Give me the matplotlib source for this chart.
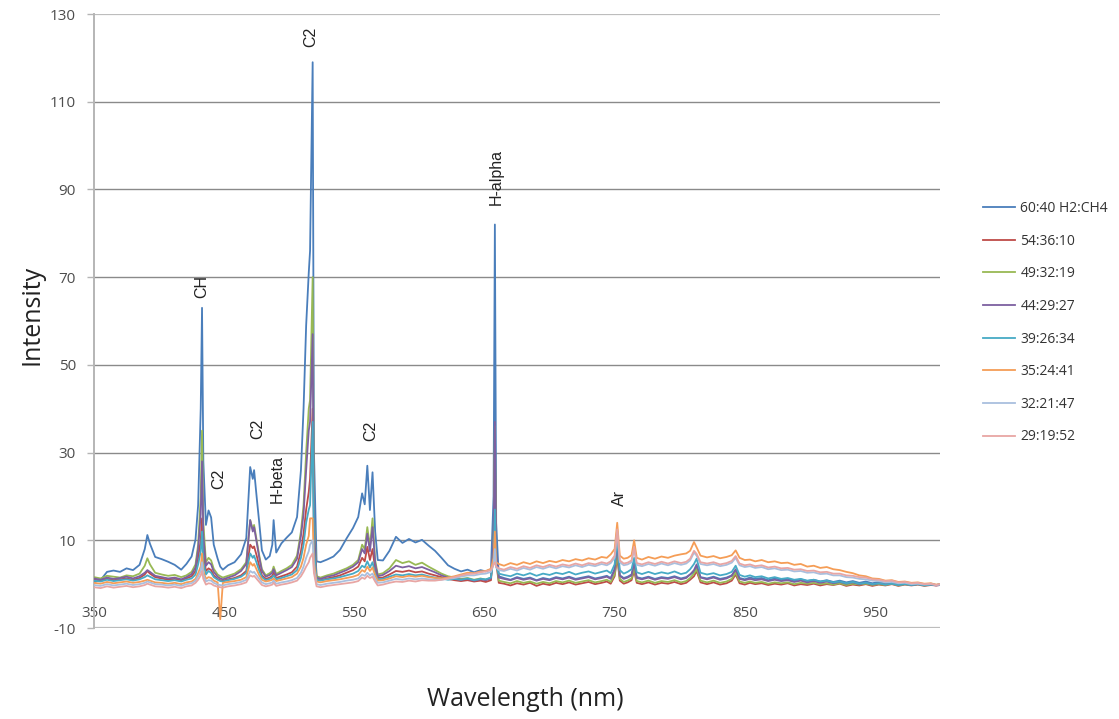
import matplotlib
matplotlib.use("Agg")
import matplotlib.pyplot as plt
import numpy as np

# ---------------- data ----------------
wavelength = [
    350, 355, 360, 365, 370, 375, 380, 385, 389, 391,
    393, 397, 402, 407, 412, 417, 421, 425, 428, 430,
    432, 433, 434, 436, 438, 440, 442, 445, 447, 449,
    453, 458, 463, 467, 470, 472, 473, 475, 477, 479,
    482, 485, 487, 488, 490, 494, 498, 502, 506, 509,
    511, 513, 515, 516, 518, 519, 521, 524, 529, 534,
    539, 544, 549, 553, 556, 558, 560, 562, 564, 566,
    568, 572, 577, 582, 587, 592, 597, 602, 607, 612,
    617, 622, 627, 632, 637, 642, 647, 651, 655, 657,
    658, 659, 661, 665, 670, 675, 680, 685, 690, 695,
    700, 705, 710, 715, 720, 725, 730, 735, 740, 744,
    747, 750, 752, 754, 757, 760, 763, 765, 767, 771,
    776, 781, 786, 791, 796, 801, 805, 808, 811, 813,
    816, 821, 826, 831, 836, 840, 843, 846, 850, 854,
    858, 863, 868, 873, 878, 883, 888, 893, 898, 903,
    908, 913, 918, 923, 928, 933, 938, 943, 948, 953,
    958, 963, 968, 973, 978, 983, 988, 993, 997, 1000,
]

s_60_40 = [
    0.5, 0.9, 2.8, 3.1, 2.8, 3.6, 3.2, 4.4, 8.0, 11.2,
    9.2, 6.2, 5.7, 5.1, 4.4, 3.3, 4.6, 6.3, 10.2, 18.0,
    40.0, 63.0, 28.0, 13.5, 16.8, 15.2, 9.0, 5.8, 4.0, 3.3,
    4.3, 5.0, 6.8, 10.5, 26.7, 24.0, 26.0, 19.8, 13.9, 7.7,
    5.6, 6.4, 9.0, 14.6, 7.2, 9.3, 10.6, 11.8, 15.3, 26.0,
    40.0, 59.0, 71.0, 76.0, 119.0, 30.0, 5.2, 5.0, 5.6, 6.3,
    7.8, 10.4, 12.8, 15.3, 20.7, 18.2, 27.0, 16.9, 25.5, 12.0,
    5.5, 5.4, 7.6, 10.8, 9.4, 10.3, 9.5, 10.1, 8.8, 7.6,
    6.0, 4.3, 3.5, 2.9, 3.3, 2.7, 3.2, 2.9, 3.4, 20.0,
    82.0, 14.0, 1.8, 1.4, 1.0, 1.6, 1.2, 1.5, 0.9, 1.4,
    1.1, 1.6, 1.3, 1.7, 1.2, 1.5, 1.8, 1.3, 1.6, 1.9,
    1.4, 3.5, 8.0, 2.0, 1.4, 1.7, 2.2, 4.5, 1.6, 1.3,
    1.7, 1.2, 1.6, 1.4, 1.8, 1.3, 1.6, 2.2, 2.8, 4.0,
    1.6, 1.3, 1.7, 1.2, 1.5, 2.0, 3.2, 1.4, 1.1, 1.5,
    1.2, 1.4, 0.9, 1.3, 1.0, 1.2, 0.8, 1.1, 0.7, 1.0,
    0.6, 0.9, 0.5, 0.8, 0.4, 0.7, 0.3, 0.6, 0.2, 0.5,
    0.2, 0.4, 0.1, 0.3, 0.0, 0.2, -0.1, 0.1, -0.2, 0.0,
]

s_54_36_10 = [
    1.0, 0.8, 1.2, 0.9, 1.1, 1.3, 1.0, 1.4, 2.2, 3.0,
    2.4, 1.6, 1.3, 1.0, 1.2, 0.9, 1.3, 1.8, 3.0, 6.0,
    10.0, 15.0, 7.0, 3.0, 3.6, 3.2, 2.0, 1.2, 0.9, 0.8,
    1.1, 1.4, 2.0, 3.0, 9.0, 8.2, 8.6, 6.5, 4.0, 2.0,
    1.2, 1.5, 1.9, 2.6, 1.4, 1.8, 2.2, 2.7, 4.0, 7.5,
    11.5, 17.0, 21.0, 24.0, 40.0, 9.0, 1.2, 0.9, 1.3, 1.6,
    2.0, 2.6, 3.2, 4.0, 6.0, 5.2, 8.5, 5.5, 8.0, 3.5,
    1.4, 1.5, 2.2, 3.0, 2.8, 3.1, 2.7, 2.9, 2.4, 2.0,
    1.6, 1.2, 0.9, 0.7, 0.9, 0.6, 0.8, 0.5, 0.9, 8.0,
    30.0, 5.0, 0.3, 0.1, -0.3, 0.2, -0.1, 0.3, -0.4, 0.1,
    -0.2, 0.3, 0.0, 0.4, -0.1, 0.2, 0.5, 0.0, 0.3, 0.6,
    0.1, 1.8, 6.0, 0.8, 0.1, 0.4, 0.9, 3.0, 0.3, 0.0,
    0.4, -0.1, 0.3, 0.1, 0.5, 0.0, 0.3, 1.0, 1.8, 3.0,
    0.4, 0.0, 0.4, -0.1, 0.2, 0.8, 2.2, 0.2, -0.1, 0.3,
    0.0, 0.2, -0.2, 0.1, -0.1, 0.2, -0.3, 0.0, -0.2, 0.1,
    -0.3, 0.0, -0.2, 0.1, -0.4, -0.1, -0.3, 0.0, -0.4, -0.1,
    -0.3, 0.0, -0.4, -0.1, -0.3, -0.1, -0.4, -0.2, -0.3, -0.2,
]

s_49_32_19 = [
    1.6, 1.3, 1.9, 1.7, 1.5, 2.0, 1.8, 2.4, 4.2, 5.9,
    4.5, 2.6, 2.2, 1.9, 2.1, 1.6, 2.0, 2.8, 4.5, 9.0,
    20.0, 35.0, 14.0, 5.0, 6.0, 5.4, 3.5, 2.2, 1.8, 1.5,
    1.9, 2.4, 3.4, 5.0, 14.6, 12.5, 13.5, 10.0, 6.5, 3.4,
    2.0, 2.5, 3.0, 4.0, 2.3, 3.0, 3.6, 4.4, 6.5, 12.0,
    18.0, 30.0, 40.0, 42.0, 70.0, 15.0, 1.8, 1.5, 2.0, 2.4,
    3.0, 3.6, 4.4, 5.5, 9.0, 8.0, 13.0, 8.5, 15.0, 5.5,
    2.2, 2.5, 3.6, 5.5, 4.8, 5.2, 4.4, 4.9, 4.0, 3.2,
    2.4, 1.8, 1.5, 1.2, 1.4, 1.0, 1.3, 1.0, 1.5, 9.0,
    36.0, 6.0, 0.8, 0.5, 0.2, 0.7, 0.3, 0.6, 0.1, 0.5,
    0.2, 0.7, 0.4, 0.8, 0.3, 0.6, 0.9, 0.4, 0.7, 1.0,
    0.5, 2.2, 7.0, 1.2, 0.5, 0.8, 1.3, 3.6, 0.7, 0.4,
    0.8, 0.3, 0.7, 0.5, 0.9, 0.4, 0.7, 1.4, 2.4, 3.4,
    0.8, 0.4, 0.8, 0.3, 0.6, 1.2, 2.6, 0.6, 0.3, 0.6,
    0.3, 0.5, 0.1, 0.4, 0.2, 0.4, 0.0, 0.3, 0.1, 0.3,
    0.0, 0.2, -0.1, 0.2, -0.2, 0.1, -0.1, 0.1, -0.2, 0.0,
    -0.2, 0.1, -0.3, 0.0, -0.2, 0.0, -0.3, -0.1, -0.2, -0.1,
]

s_44_29_27 = [
    1.3, 1.0, 1.5, 1.2, 1.4, 1.7, 1.3, 1.8, 2.6, 3.2,
    2.8, 1.9, 1.6, 1.3, 1.5, 1.1, 1.6, 2.3, 3.8, 8.0,
    16.0, 28.0, 11.0, 4.2, 5.0, 4.5, 2.8, 1.7, 1.3, 1.1,
    1.5, 2.0, 3.0, 4.6, 14.6, 12.0, 13.0, 9.5, 6.0, 3.0,
    1.7, 2.1, 2.6, 3.4, 2.0, 2.6, 3.2, 3.9, 5.8, 11.0,
    16.0, 26.0, 35.0, 37.0, 57.0, 13.0, 1.5, 1.2, 1.7, 2.0,
    2.6, 3.2, 4.0, 5.0, 8.0, 7.0, 11.5, 7.5, 13.0, 4.8,
    1.8, 2.1, 3.0, 4.2, 3.8, 4.1, 3.6, 3.9, 3.3, 2.7,
    2.0, 1.5, 1.2, 1.0, 1.2, 0.8, 1.1, 0.9, 1.3, 10.0,
    37.0, 7.0, 1.5, 1.2, 0.9, 1.4, 1.0, 1.3, 0.8, 1.2,
    0.9, 1.4, 1.1, 1.5, 1.0, 1.3, 1.6, 1.1, 1.4, 1.7,
    1.2, 3.2, 9.0, 1.9, 1.2, 1.5, 2.0, 4.8, 1.4, 1.1,
    1.5, 1.0, 1.4, 1.2, 1.6, 1.1, 1.4, 2.2, 3.2, 4.5,
    1.5, 1.1, 1.5, 1.0, 1.3, 1.9, 3.4, 1.2, 0.9, 1.2,
    0.9, 1.1, 0.7, 1.0, 0.7, 0.9, 0.5, 0.8, 0.4, 0.7,
    0.3, 0.6, 0.2, 0.5, 0.1, 0.4, 0.0, 0.3, -0.1, 0.2,
    -0.1, 0.2, -0.2, 0.1, -0.2, 0.0, -0.2, -0.1, -0.3, -0.2,
]

s_39_26_34 = [
    0.8, 0.6, 1.0, 0.7, 0.9, 1.1, 0.8, 1.1, 1.6, 2.0,
    1.7, 1.1, 0.9, 0.7, 0.9, 0.6, 1.0, 1.3, 2.2, 4.5,
    7.5, 12.0, 5.0, 2.2, 3.0, 2.6, 1.6, 1.0, 0.7, 0.6,
    0.9, 1.2, 1.7, 2.6, 7.0, 6.0, 6.5, 4.8, 3.0, 1.6,
    0.9, 1.2, 1.5, 2.0, 1.1, 1.4, 1.8, 2.2, 3.2, 6.0,
    9.0, 14.0, 17.0, 18.0, 37.0, 8.0, 1.0, 0.8, 1.1, 1.3,
    1.6, 2.0, 2.4, 3.0, 4.2, 3.8, 5.2, 3.8, 5.0, 2.4,
    1.1, 1.2, 1.7, 2.2, 2.0, 2.3, 2.0, 2.2, 1.8, 1.5,
    1.3, 1.0, 1.2, 1.0, 1.3, 0.9, 1.2, 1.1, 1.5, 6.0,
    17.0, 4.0, 2.4, 2.1, 1.8, 2.4, 2.0, 2.5, 1.9, 2.4,
    2.1, 2.6, 2.3, 2.8, 2.2, 2.6, 2.9, 2.4, 2.8, 3.1,
    2.5, 4.5, 10.0, 3.2, 2.4, 2.8, 3.4, 6.0, 2.7, 2.3,
    2.8, 2.3, 2.7, 2.4, 2.9, 2.3, 2.6, 3.4, 4.6, 5.8,
    2.6, 2.2, 2.5, 2.0, 2.3, 2.8, 4.2, 2.1, 1.7, 2.0,
    1.6, 1.8, 1.3, 1.6, 1.2, 1.4, 1.0, 1.2, 0.8, 1.0,
    0.6, 0.8, 0.4, 0.6, 0.2, 0.5, 0.1, 0.3, 0.0, 0.2,
    -0.1, 0.1, -0.2, 0.0, -0.2, 0.0, -0.3, -0.1, -0.2, -0.1,
]

s_35_24_41 = [
    0.3, 0.1, 0.5, 0.2, 0.4, 0.6, 0.3, 0.5, 0.8, 1.0,
    0.8, 0.4, 0.3, 0.1, 0.3, 0.0, 0.4, 0.6, 1.2, 2.5,
    4.0, 7.0, 3.0, 1.2, 1.6, 1.4, 0.8, 0.4, -8.0, 0.3,
    0.5, 0.7, 1.0, 1.6, 5.0, 4.2, 4.6, 3.3, 2.0, 1.0,
    0.6, 0.8, 1.0, 1.3, 0.7, 1.0, 1.3, 1.6, 2.4, 4.0,
    6.0, 9.0, 11.0, 15.0, 15.0, 5.0, 0.6, 0.4, 0.7, 0.9,
    1.1, 1.4, 1.7, 2.1, 3.2, 2.8, 4.0, 3.0, 3.8, 2.0,
    0.8, 0.9, 1.3, 1.8, 1.6, 1.9, 1.7, 1.9, 1.6, 1.4,
    1.3, 1.5, 1.8, 2.2, 2.6, 2.5, 2.9, 3.0, 3.5, 6.0,
    12.0, 5.0, 4.6, 4.2, 4.8, 4.4, 5.0, 4.6, 5.2, 4.8,
    5.3, 5.0, 5.5, 5.2, 5.7, 5.4, 5.9, 5.6, 6.2, 6.0,
    6.8, 8.0, 14.0, 6.5, 5.8, 6.0, 6.6, 10.0, 6.0, 5.6,
    6.2, 5.8, 6.3, 6.0, 6.5, 6.8, 7.0, 7.6, 9.6, 8.4,
    6.5, 6.1, 6.4, 5.9, 6.2, 6.6, 7.7, 6.0, 5.5, 5.6,
    5.2, 5.5, 5.0, 5.2, 4.8, 4.9, 4.4, 4.6, 4.0, 4.2,
    3.7, 3.9, 3.4, 3.2, 2.8, 2.5, 2.0, 1.8, 1.3, 1.2,
    0.8, 0.9, 0.5, 0.6, 0.3, 0.4, 0.1, 0.2, -0.1, 0.0,
]

s_32_21_47 = [
    -0.2, -0.4, 0.0, -0.3, -0.1, 0.1, -0.2, 0.0, 0.3, 0.6,
    0.4, 0.0, -0.1, -0.3, -0.1, -0.4, 0.0, 0.2, 0.8, 1.8,
    3.0, 5.0, 2.2, 0.6, 0.9, 0.8, 0.3, -0.1, -0.2, -0.3,
    0.0, 0.2, 0.5, 1.0, 3.0, 2.6, 2.8, 2.0, 1.2, 0.4,
    0.0, 0.2, 0.4, 0.8, 0.1, 0.4, 0.6, 0.9, 1.4, 2.6,
    4.0, 6.0, 7.5, 9.0, 10.0, 3.5, 0.0, -0.2, 0.1, 0.3,
    0.5, 0.8, 1.0, 1.3, 2.2, 1.9, 2.6, 2.0, 2.4, 1.2,
    0.3, 0.4, 0.8, 1.2, 1.0, 1.3, 1.1, 1.3, 1.1, 1.0,
    1.0, 1.2, 1.4, 1.7, 2.0, 2.0, 2.3, 2.4, 2.8, 4.5,
    8.0, 3.8, 3.2, 3.0, 3.5, 3.1, 3.7, 3.3, 3.9, 3.5,
    4.0, 3.6, 4.1, 3.8, 4.3, 3.9, 4.4, 4.1, 4.6, 4.3,
    4.8, 6.0, 12.0, 5.0, 4.3, 4.5, 5.0, 8.0, 4.4, 4.1,
    4.6, 4.2, 4.7, 4.3, 4.8, 4.4, 4.7, 5.4, 7.2, 6.5,
    4.6, 4.3, 4.6, 4.1, 4.4, 4.9, 6.0, 4.3, 3.9, 4.1,
    3.7, 3.9, 3.4, 3.6, 3.2, 3.3, 2.9, 3.0, 2.6, 2.7,
    2.3, 2.4, 2.0, 2.0, 1.6, 1.5, 1.2, 1.1, 0.8, 0.7,
    0.4, 0.5, 0.2, 0.3, 0.0, 0.1, -0.1, 0.0, -0.2, -0.1,
]

s_29_19_52 = [
    -0.7, -0.9, -0.5, -0.8, -0.6, -0.4, -0.7, -0.5, -0.2, 0.1,
    -0.1, -0.5, -0.6, -0.8, -0.6, -0.9, -0.5, -0.3, 0.3, 1.0,
    2.0, 3.0, 1.2, -0.1, 0.2, 0.1, -0.3, -0.6, -0.7, -0.8,
    -0.5, -0.3, 0.0, 0.4, 2.0, 1.7, 1.9, 1.2, 0.5, -0.2,
    -0.5, -0.3, -0.1, 0.3, -0.4, -0.1, 0.1, 0.4, 0.8, 1.8,
    2.8, 4.0, 5.0, 6.0, 7.0, 2.5, -0.5, -0.7, -0.4, -0.2,
    0.0, 0.2, 0.4, 0.7, 1.5, 1.2, 1.9, 1.4, 1.7, 0.6,
    -0.3, -0.1, 0.3, 0.6, 0.5, 0.8, 0.6, 0.9, 0.8, 0.8,
    1.0, 1.3, 1.6, 2.0, 2.3, 2.4, 2.7, 2.9, 3.2, 4.5,
    5.0, 4.0, 3.6, 3.3, 3.9, 3.5, 4.1, 3.7, 4.3, 3.9,
    4.4, 4.0, 4.5, 4.2, 4.7, 4.3, 4.8, 4.5, 5.0, 4.7,
    5.2, 6.5, 12.5, 5.4, 4.7, 4.9, 5.4, 8.5, 4.8, 4.5,
    5.0, 4.6, 5.1, 4.7, 5.2, 4.8, 5.1, 5.8, 7.6, 6.9,
    5.0, 4.7, 5.0, 4.5, 4.8, 5.3, 6.4, 4.7, 4.3, 4.5,
    4.1, 4.3, 3.8, 4.0, 3.6, 3.7, 3.3, 3.4, 3.0, 3.1,
    2.7, 2.8, 2.4, 2.4, 2.0, 1.9, 1.6, 1.5, 1.1, 1.0,
    0.7, 0.8, 0.4, 0.5, 0.2, 0.3, 0.0, 0.1, -0.2, 0.0,
]

series_labels = ["60:40 H2:CH4", "54:36:10", "49:32:19", "44:29:27",
                 "39:26:34", "35:24:41", "32:21:47", "29:19:52"]
series_values = [s_60_40, s_54_36_10, s_49_32_19, s_44_29_27,
                 s_39_26_34, s_35_24_41, s_32_21_47, s_29_19_52]

peak_labels = ["CH", "C2", "C2", "H-beta", "C2", "C2", "H-alpha", "Ar"]
peak_x = [433, 445.5, 475.5, 491, 516.5, 562.5, 659, 754]
peak_y = [67.8, 24.1, 35.5, 23.9, 124.8, 35.0, 92.9, 19.6]

x_ticks = [350, 450, 550, 650, 750, 850, 950]
y_ticks = [-10, 10, 30, 50, 70, 90, 110, 130]

# ---------------- style ----------------
colors = ["#4A7EBB", "#BE4B48", "#98B954", "#7D60A0",
          "#46AAC5", "#F59D56", "#A9BFDE", "#E8A6A4"]

plt.rcParams['font.family'] = ['Open Sans', 'DejaVu Sans']
plt.rcParams['axes.unicode_minus'] = False

fig = plt.figure(figsize=(11.19, 7.19), dpi=100)
ax = fig.add_axes([94 / 1119, 91 / 719, 846 / 1119, 614 / 719])

for vals, lab, col in zip(series_values, series_labels, colors):
    ax.plot(wavelength, vals, color=col, lw=1.3, label=lab, zorder=3)

ax.set_xlim(350, 1000)
ax.set_ylim(-10, 130)
ax.set_yticks(y_ticks)
ax.set_xticks(x_ticks)

ax.grid(axis='y', color='#8a8a8a', lw=1.0, zorder=1)
ax.grid(axis='x', visible=False)
for gl, v in zip(ax.get_ygridlines(), y_ticks):
    if v in (-10, 130):
        gl.set_color('#bdbdbd')
        gl.set_linewidth(1.6)

for s in ('top', 'right'):
    ax.spines[s].set_visible(False)
ax.spines['left'].set_color('#b5b5b5')
ax.spines['left'].set_linewidth(1.4)
ax.spines['bottom'].set_position(('data', 0))
ax.spines['bottom'].set_visible(False)

ax.tick_params(axis='y', length=5, width=1.0, color='#b5b5b5', pad=8,
               labelsize=11, labelcolor='#4d4d4d')
ax.tick_params(axis='x', length=0, pad=16, labelsize=11, labelcolor='#4d4d4d')

for lab, xv, yv in zip(peak_labels, peak_x, peak_y):
    ax.text(xv, yv, lab, rotation=90, ha='center', va='center',
            fontsize=11.5, family=['Liberation Sans', 'DejaVu Sans'],
            color='#222222', zorder=4)

fig.text(32 / 1119, 1 - 315 / 719, "Intensity", rotation=90, ha='center',
         va='center', fontsize=18, color='#222222')
fig.text(525 / 1119, 1 - 700 / 719, "Wavelength (nm)", ha='center',
         va='center', fontsize=18, color='#222222')

leg = ax.legend(loc='upper left', bbox_to_anchor=(983 / 1119, 1 - 201 / 719),
                bbox_transform=fig.transFigure, frameon=False, fontsize=10,
                handlelength=2.3, handletextpad=0.4, labelspacing=1.27,
                borderpad=0, borderaxespad=0)
for t in leg.get_texts():
    t.set_color('#333333')

fig.savefig("out.png", dpi=100)
